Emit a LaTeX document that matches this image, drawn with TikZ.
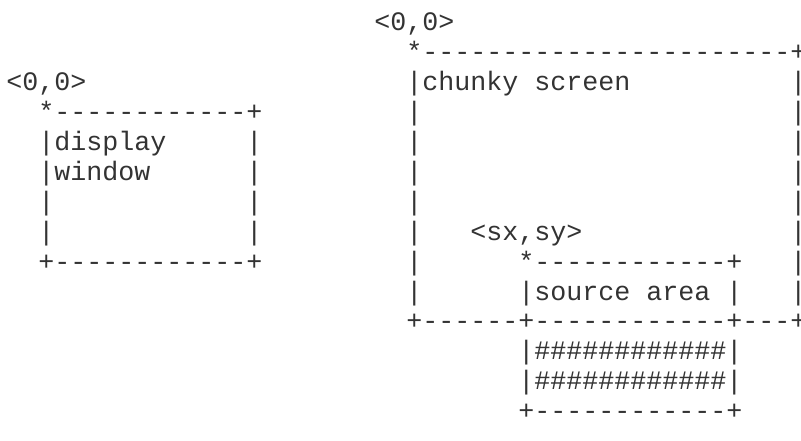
\documentclass[tikz,border=0pt]{standalone}
\usepackage{fontspec}
\setmonofont{Liberation Mono}
\tikzstyle{ascii} = [
anchor=base west,
inner sep=0pt,
text=black!80,
font=\ttfamily\fontsize{20pt}{22pt}\selectfont
]

\begin{document}
\begin{tikzpicture}
  \useasboundingbox (0,0) rectangle (600.75pt,-330.75pt);
  \begin{scope}[shift={(4.5pt,-23.25pt)}, x=12pt, y=-22.425pt]
  % Display window
  \node [ascii] (winorigin) at (0,2) {<0,0>};
  \node [ascii] (wintop) at (2,3) {*------------+};
  \node [ascii] (winname) at (2,4) {|display};
  \node [ascii] (winr4) at (15,4) {|};
  \node [ascii] (winname2) at (2,5) {|window};
  \node [ascii] (winr5) at (15,5) {|};
  \node [ascii] (winl6) at (2,6) {|};
  \node [ascii] (winr6) at (15,6) {|};
  \node [ascii] (winl7) at (2,7) {|};
  \node [ascii] (winr7) at (15,7) {|};
  \node [ascii] (winbottom) at (2,8) {+------------+};

  % Chunky screen
  \node [ascii] (scrorigin) at (23,0) {<0,0>};
  \node [ascii] (scrtop) at (25,1) {*-----------------------+};
  \node [ascii] (scrname) at (25,2) {|chunky screen};
  \node [ascii] (scrr2) at (49,2) {|};
  \node [ascii] (scrl3) at (25,3) {|};
  \node [ascii] (scrr3) at (49,3) {|};
  \node [ascii] (scrl4) at (25,4) {|};
  \node [ascii] (scrr4) at (49,4) {|};
  \node [ascii] (scrl5) at (25,5) {|};
  \node [ascii] (scrr5) at (49,5) {|};
  \node [ascii] (scrl6) at (25,6) {|};
  \node [ascii] (scrr6) at (49,6) {|};
  \node [ascii] (scrl7) at (25,7) {|};
  \node [ascii] (scrr7) at (49,7) {|};
  \node [ascii] (scrl8) at (25,8) {|};
  \node [ascii] (scrr8) at (49,8) {|};
  \node [ascii] (scrl9) at (25,9) {|};
  \node [ascii] (scrr9) at (49,9) {|};
  \node [ascii] (scrbottom) at (25,10) {+------+------------+---+};

  % Source area
  \node [ascii] (srcorigin) at (29,7) {<sx,sy>};
  \node [ascii] (srctop) at (32,8) {*------------+};
  \node [ascii] (srcname) at (32,9) {|source area};
  \node [ascii] (srcr9) at (45,9) {|};
  \node [ascii] (srcfill1) at (32,11) {|\#\#\#\#\#\#\#\#\#\#\#\#|};
  \node [ascii] (srcfill2) at (32,12) {|\#\#\#\#\#\#\#\#\#\#\#\#|};
  \node [ascii] (srcbottom) at (32,13) {+------------+};
  \end{scope}
\end{tikzpicture}
\end{document}
